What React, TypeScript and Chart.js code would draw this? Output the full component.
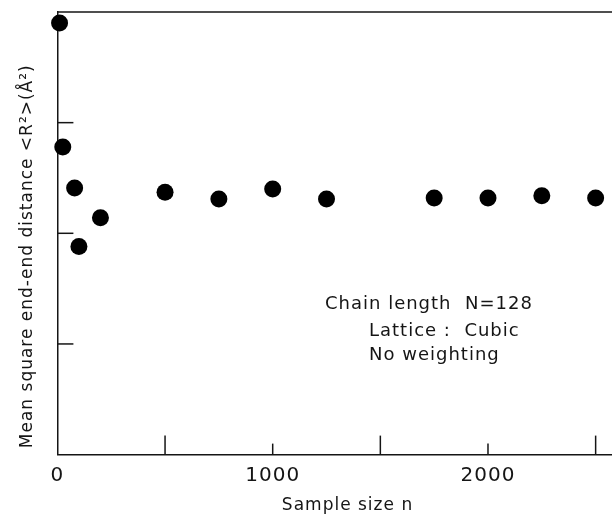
import React, { useEffect, useRef } from "react";
import { Chart, registerables } from "chart.js";

Chart.register(...registerables);

// Data
const SAMPLE_SIZES = [10, 25, 80, 100, 200, 500, 750, 1000, 1250, 1750, 2000, 2250, 2500];
const MEAN_SQ_DIST = [390, 278, 241, 188, 214, 237, 231, 240, 231, 232, 232, 234, 232];

const X_TICKS = [0, 500, 1000, 1500, 2000, 2500];
const X_TICK_LABELS = ["0", "", "1000", "", "2000", ""];
const Y_TICKS = [0, 100, 200, 300, 400];

const X_TITLE = "    Sample size n";
const Y_TITLE = " Mean square end-end distance <R²>(Å²)";
const NOTE_LINES = ["Chain length  N=128", "Lattice :  Cubic", "No weighting"];

const FONT = "'DejaVu Sans', sans-serif";
const INK = "#151515";

const decorPlugin = {
  id: "decor",
  beforeDraw(chart: any) {
    chart.ctx.letterSpacing = "1px";
  },
  afterDraw(chart: any) {
    const { ctx, chartArea } = chart;
    const xs = chart.scales.x;
    const ys = chart.scales.y;
    ctx.save();
    ctx.strokeStyle = INK;
    ctx.lineWidth = 1.5;
    // top border
    ctx.beginPath();
    ctx.moveTo(chartArea.left, chartArea.top);
    ctx.lineTo(chartArea.right, chartArea.top);
    ctx.stroke();
    // inward x ticks
    xs.ticks.forEach((t: any, i: number) => {
      if (t.value === 0) return;
      const px = xs.getPixelForValue(t.value);
      const len = X_TICK_LABELS[i] ? 11 : 19;
      ctx.beginPath();
      ctx.moveTo(px, chartArea.bottom);
      ctx.lineTo(px, chartArea.bottom - len);
      ctx.stroke();
    });
    // inward y ticks
    ys.ticks.forEach((t: any) => {
      if (t.value === 0 || t.value === 400) return;
      const py = ys.getPixelForValue(t.value);
      ctx.beginPath();
      ctx.moveTo(chartArea.left, py);
      ctx.lineTo(chartArea.left + 16, py);
      ctx.stroke();
    });
    // annotation
    ctx.fillStyle = INK;
    ctx.font = `18px ${FONT}`;
    ctx.letterSpacing = "1px";
    ctx.textAlign = "left";
    ctx.textBaseline = "middle";
    ctx.fillText(NOTE_LINES[0], 325, 304);
    ctx.fillText(NOTE_LINES[1], 369, 331);
    ctx.fillText(NOTE_LINES[2], 369, 355);
    ctx.restore();
  },
};

export default function App() {
  const ref = useRef<HTMLCanvasElement>(null);
  useEffect(() => {
    if (!ref.current) return;
    const chart = new Chart(ref.current, {
      type: "scatter",
      data: {
        datasets: [
          {
            data: SAMPLE_SIZES.map((x, i) => ({ x, y: MEAN_SQ_DIST[i] })),
            pointRadius: 8.5,
            pointHoverRadius: 8.5,
            pointBackgroundColor: "#000",
            pointBorderWidth: 0,
            clip: false,
          } as any,
        ],
      },
      options: {
        animation: false,
        responsive: false,
        layout: { autoPadding: false, padding: { top: 12, left: 0, right: 0, bottom: 0 } },
        plugins: { legend: { display: false }, tooltip: { enabled: false } },
        scales: {
          x: {
            type: "linear",
            min: 0,
            max: 2576,
            afterBuildTicks: (s: any) => {
              s.ticks = X_TICKS.map((v) => ({ value: v }));
            },
            grid: { drawOnChartArea: false, drawTicks: true, tickLength: 9, tickColor: "rgba(0,0,0,0)" },
            border: { display: true, color: INK, width: 1.5 },
            ticks: {
              autoSkip: false,
              maxRotation: 0,
              padding: 0,
              color: INK,
              font: { family: FONT, size: 20 },
              callback: (_v: any, i: number) => X_TICK_LABELS[i],
            },
            title: {
              display: true,
              text: X_TITLE,
              color: INK,
              font: { family: FONT, size: 17 },
              padding: { top: 8, bottom: 0 },
            },
          },
          y: {
            type: "linear",
            min: 0,
            max: 400,
            afterBuildTicks: (s: any) => {
              s.ticks = Y_TICKS.map((v) => ({ value: v }));
            },
            grid: { drawOnChartArea: false, drawTicks: false },
            border: { display: true, color: INK, width: 1.5 },
            ticks: { display: false },
            title: {
              display: true,
              text: Y_TITLE,
              align: "start",
              color: INK,
              font: { family: FONT, size: 17 },
              padding: { top: 17, bottom: 20 },
            },
          },
        },
      },
      plugins: [decorPlugin],
    } as any);
    return () => chart.destroy();
  }, []);
  return (
    <div style={{ position: "fixed", left: 0, top: 0, width: 612, height: 516, background: "#fff" }}>
      <canvas ref={ref} width={612} height={516} />
    </div>
  );
}
